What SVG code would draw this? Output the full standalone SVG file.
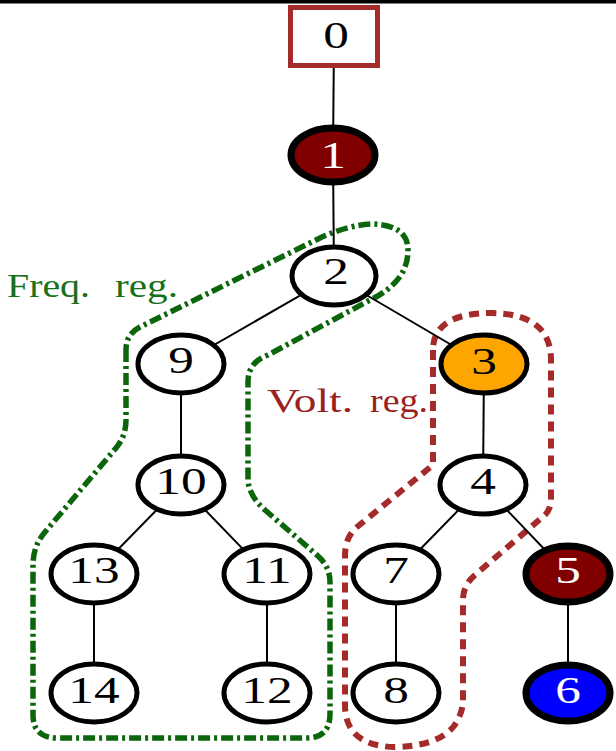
<svg xmlns="http://www.w3.org/2000/svg" width="616" height="751" viewBox="0 0 616 751">
  <style>
    .edge { stroke: #000; stroke-width: 2; fill: none; }
    .node { stroke: #000; stroke-width: 5; fill: #fff; }
    .node.bold { stroke-width: 7; }
    .node.maroon { fill: #800000; }
    .node.orange { fill: #ffa500; }
    .node.blue { fill: #0000ff; }
    .num { font-family: "Liberation Serif", "Times New Roman", serif; font-size: 38px; text-anchor: middle; fill: #000; }
    .num.light { fill: #fff; }
    .freq { fill: none; stroke: #0b650b; stroke-width: 5.5; stroke-dasharray: 12 4 3 4; stroke-linejoin: round; }
    .volt { fill: none; stroke: #a52a2a; stroke-width: 6; stroke-dasharray: 10 7; stroke-linejoin: round; }
    .label { font-family: "Liberation Serif", "Times New Roman", serif; font-size: 33px; }
  </style>

  <rect x="0" y="0" width="616" height="3.5" fill="#000"/>

  <!-- region outlines -->
  <g id="regions">
    <path id="freq-region" class="freq" d="M126,350 L126,420 Q126,436 116,448 L45,532 Q33,546 33,565 L33,715 Q33,738 58,738 L306,738 Q330,738 330,714 L330,582 Q330,567 318,556 L265,510 Q249,496 248,480 L248,382 Q248,362 268,355 L370,300 Q408,282 408,250 Q408,225 372,224 Q348,225 320,238 L140,327 Q126,334 126,350 Z"/>
    <path id="volt-region" class="volt" d="M433,350 L433,465 L357,527 Q345,537 345,556 L345,705 Q345,746 395,747 Q438,746 454,726 Q463,713 463,700 L463,600 Q463,585 475,575 L545,515 Q551,509 551,498 L551,360 Q551,314 492,313 Q433,313 433,350 Z"/>
  </g>

  <g id="labels">
    <text class="label" x="7" y="297" fill="#17701a" textLength="83" lengthAdjust="spacingAndGlyphs">Freq.</text>
    <text class="label" x="115" y="297" fill="#17701a" textLength="63" lengthAdjust="spacingAndGlyphs">reg.</text>
    <text class="label" x="267" y="412" fill="#9b2020" textLength="86" lengthAdjust="spacingAndGlyphs">Volt.</text>
    <text class="label" x="370" y="412" fill="#9b2020" textLength="58" lengthAdjust="spacingAndGlyphs">reg.</text>
  </g>

  <!-- tree edges -->
  <g id="edges">
    <line class="edge" x1="334" y1="37" x2="333" y2="155"/>
    <line class="edge" x1="333" y1="155" x2="334" y2="276"/>
    <line class="edge" x1="334" y1="276" x2="181" y2="364"/>
    <line class="edge" x1="334" y1="276" x2="484" y2="364"/>
    <line class="edge" x1="181" y1="364" x2="181" y2="485"/>
    <line class="edge" x1="181" y1="485" x2="94" y2="574"/>
    <line class="edge" x1="181" y1="485" x2="267" y2="574"/>
    <line class="edge" x1="94" y1="574" x2="94" y2="693"/>
    <line class="edge" x1="267" y1="574" x2="267" y2="693"/>
    <line class="edge" x1="484" y1="364" x2="483" y2="485"/>
    <line class="edge" x1="483" y1="485" x2="396" y2="574"/>
    <line class="edge" x1="483" y1="485" x2="568" y2="574"/>
    <line class="edge" x1="396" y1="574" x2="396" y2="693"/>
    <line class="edge" x1="568" y1="574" x2="568" y2="693"/>
  </g>

  <g id="n0">
    <rect x="290.5" y="7.5" width="87" height="58" fill="#fff" stroke="#a52a2a" stroke-width="5"/>
    <text class="num" transform="translate(336,48) scale(1.35,1)">0</text>
  </g>
  <g id="n1">
    <ellipse class="node bold maroon" cx="333" cy="155" rx="42" ry="27"/>
    <text class="num light" transform="translate(333,168) scale(1.35,1)">1</text>
  </g>
  <g id="n2">
    <ellipse class="node" cx="334" cy="276" rx="42" ry="29"/>
    <text class="num" transform="translate(336,284) scale(1.35,1)">2</text>
  </g>
  <g id="n9">
    <ellipse class="node" cx="181" cy="364" rx="43" ry="29"/>
    <text class="num" transform="translate(181,373) scale(1.35,1)">9</text>
  </g>
  <g id="n3">
    <ellipse class="node orange" cx="484" cy="364" rx="43" ry="29"/>
    <text class="num" transform="translate(484,374) scale(1.35,1)">3</text>
  </g>
  <g id="n10">
    <ellipse class="node" cx="181" cy="485" rx="43" ry="29"/>
    <text class="num" transform="translate(181,494) scale(1.35,1)">10</text>
  </g>
  <g id="n4">
    <ellipse class="node" cx="483" cy="485" rx="43" ry="29"/>
    <text class="num" transform="translate(483,494) scale(1.35,1)">4</text>
  </g>
  <g id="n13">
    <ellipse class="node" cx="94" cy="574" rx="43" ry="29"/>
    <text class="num" transform="translate(94,583) scale(1.35,1)">13</text>
  </g>
  <g id="n11">
    <ellipse class="node" cx="267" cy="574" rx="43" ry="29"/>
    <text class="num" transform="translate(267,583) scale(1.35,1)">11</text>
  </g>
  <g id="n7">
    <ellipse class="node" cx="396" cy="574" rx="43" ry="29"/>
    <text class="num" transform="translate(396,583) scale(1.35,1)">7</text>
  </g>
  <g id="n5">
    <ellipse class="node bold maroon" cx="568" cy="574" rx="42" ry="28"/>
    <text class="num light" transform="translate(568,583) scale(1.35,1)">5</text>
  </g>
  <g id="n14">
    <ellipse class="node" cx="94" cy="693" rx="43" ry="29"/>
    <text class="num" transform="translate(94,703) scale(1.35,1)">14</text>
  </g>
  <g id="n12">
    <ellipse class="node" cx="267" cy="693" rx="43" ry="29"/>
    <text class="num" transform="translate(267,703) scale(1.35,1)">12</text>
  </g>
  <g id="n8">
    <ellipse class="node" cx="396" cy="693" rx="43" ry="29"/>
    <text class="num" transform="translate(396,703) scale(1.35,1)">8</text>
  </g>
  <g id="n6">
    <ellipse class="node bold blue" cx="568" cy="693" rx="42" ry="28"/>
    <text class="num light" transform="translate(568,703) scale(1.35,1)">6</text>
  </g>
</svg>
